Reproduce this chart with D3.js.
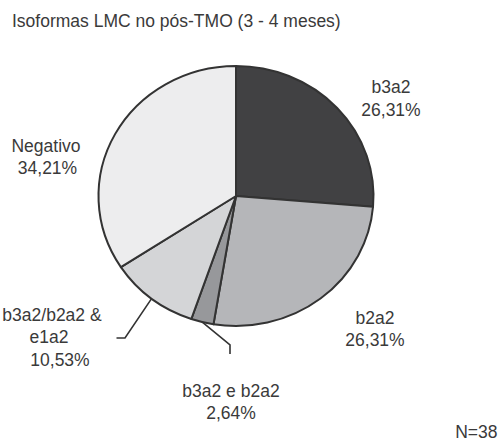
<!DOCTYPE html>
<html>
<head>
<meta charset="utf-8">
<script src="https://cdn.jsdelivr.net/npm/d3@7"></script>
<style>
  body { margin: 0; background: #fff; }
  text { font-family: "Liberation Sans", Arial, sans-serif; fill: #3a3a3a; }
</style>
</head>
<body>
<div id="chart"></div>
<script>
// data
var categories = ["b3a2", "b2a2", "b3a2 e b2a2", "b3a2/b2a2 & e1a2", "Negativo"];
var values = [26.31, 26.31, 2.64, 10.53, 34.21];
var valueLabels = ["26,31%", "26,31%", "2,64%", "10,53%", "34,21%"];
var colors = ["#414143", "#b5b6b9", "#97989b", "#d4d5d7", "#ededee"];

var width = 499, height = 444;
var cx = 236, cy = 196, rx = 137.5, ry = 130;

var svg = d3.select("#chart")
  .append("svg")
  .attr("width", width)
  .attr("height", height);

svg.append("text")
  .attr("x", 12)
  .attr("y", 26.5)
  .style("font-size", "17.5px")
  .text("Isoformas LMC no pós-TMO (3 - 4 meses)");

var pie = d3.pie().sort(null).value(function (d) { return d; });
var arcs = pie(values);
var arc = d3.arc().innerRadius(0).outerRadius(ry);

// the original pie is a little wider than tall
var g = svg.append("g")
  .attr("transform", "translate(" + cx + "," + cy + ") scale(" + (rx / ry) + ",1)");

g.selectAll("path")
  .data(arcs)
  .enter()
  .append("path")
  .attr("d", arc)
  .attr("fill", function (d, i) { return colors[i]; })
  .attr("stroke", "#333")
  .attr("stroke-width", 2)
  .attr("stroke-linejoin", "round")
  .attr("vector-effect", "non-scaling-stroke");

function edgePoint(d) {
  var a = (d.startAngle + d.endAngle) / 2;
  return [cx + rx * Math.sin(a), cy - ry * Math.cos(a)];
}

// label placement (centre x, first baseline), one per slice
var labelPos = [
  { x: 391, y: 92.5, lines: [[0, 0], [0, 23]] },
  { x: 375, y: 323.5, lines: [[0, 0], [0, 22]] },
  { x: 231, y: 396.5, lines: [[0, 0], [0, 22]] },
  { x: 52, y: 320.5, lines: [[0, 0], [-3, 22.5], [8, 45]] },
  { x: 46, y: 152, lines: [[0, 0], [1.5, 21.5]] }
];

function labelLines(i) {
  if (i === 3) return ["b3a2/b2a2 &", "e1a2", valueLabels[i]];
  return [categories[i], valueLabels[i]];
}

categories.forEach(function (c, i) {
  var p = labelPos[i];
  var lines = labelLines(i);
  var t = svg.append("text")
    .attr("text-anchor", "middle")
    .style("font-size", "17.5px");
  lines.forEach(function (s, j) {
    t.append("tspan")
      .attr("x", p.x + p.lines[j][0])
      .attr("y", p.y + p.lines[j][1])
      .text(s);
  });
});

// leader lines for the two small slices
var lead1 = edgePoint(arcs[3]);
svg.append("path")
  .attr("d", d3.line()([lead1, [125, 338], [116.5, 338]]))
  .attr("fill", "none")
  .attr("stroke", "#333")
  .attr("stroke-width", 1.6);

var lead2 = edgePoint(arcs[2]);
svg.append("path")
  .attr("d", d3.line()([lead2, [230, 345], [230, 354]]))
  .attr("fill", "none")
  .attr("stroke", "#333")
  .attr("stroke-width", 1.6);

svg.append("text")
  .attr("x", 497.5)
  .attr("y", 437.5)
  .attr("text-anchor", "end")
  .style("font-size", "17.5px")
  .text("N=38");
</script>
</body>
</html>
